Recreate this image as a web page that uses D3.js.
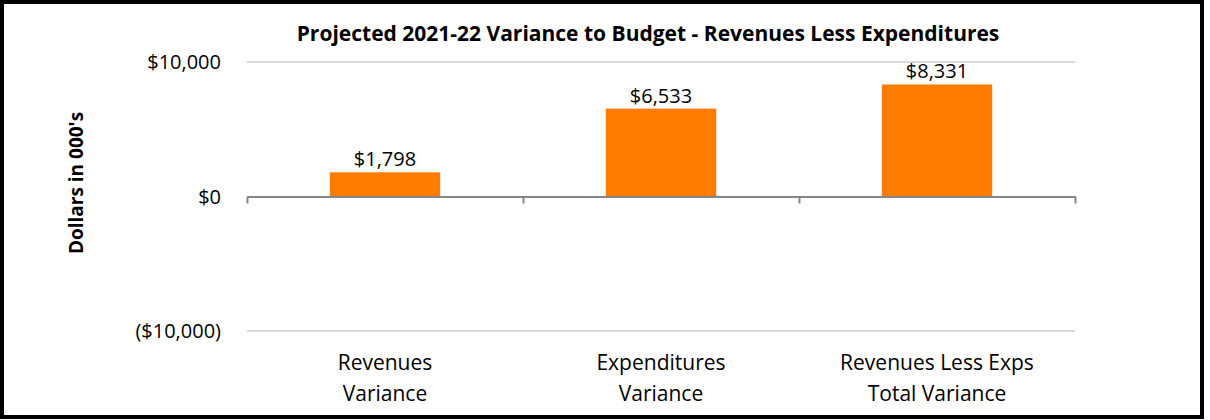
<!DOCTYPE html>
<html>
<head>
<meta charset="utf-8">
<script src="https://cdn.jsdelivr.net/npm/d3@7"></script>
<style>
  body { margin: 0; background: #fff; }
  svg text { font-family: "Open Sans", sans-serif; fill: #000; }
</style>
</head>
<body>
<svg class="chart"></svg>
<script>
const categories = [
  ['Revenues', 'Variance'],
  ['Expenditures', 'Variance'],
  ['Revenues Less Exps', 'Total Variance']
];
const values = [1798, 6533, 8331];
const yTicks = [-10000, 0, 10000];

var svgWidth = 1210;
var svgHeight = 420;

var svg = d3.select('.chart')
  .attr('width', svgWidth)
  .attr('height', svgHeight);

// outer frame
svg.append('rect')
  .attr('x', 2).attr('y', 2)
  .attr('width', 1200).attr('height', 415)
  .attr('fill', 'none')
  .attr('stroke', '#000')
  .attr('stroke-width', 4);

var xScale = d3.scaleBand()
  .domain(d3.range(values.length))
  .range([247, 1075])
  .paddingInner(0.6)
  .paddingOuter(0.3);

var yScale = d3.scaleLinear()
  .domain([-10000, 10000])
  .range([331, 62]);

const fmt = function(v) {
  var s = '$' + d3.format(',')(Math.abs(v));
  return v < 0 ? '(' + s + ')' : s;
};

// gridlines
svg.append('g')
  .selectAll('line')
  .data(yTicks.filter(function(d) { return d !== 0; }))
  .enter()
  .append('line')
  .attr('x1', 247).attr('x2', 1075)
  .attr('y1', function(d) { return yScale(d); })
  .attr('y2', function(d) { return yScale(d); })
  .attr('stroke', '#d9d9d9')
  .attr('stroke-width', 2);

// y tick labels
svg.append('g')
  .selectAll('text')
  .data(yTicks)
  .enter()
  .append('text')
  .attr('x', 221)
  .attr('y', function(d) { return yScale(d); })
  .attr('dy', '0.35em')
  .attr('text-anchor', 'end')
  .style('font-size', '20px')
  .text(fmt);

// bars
svg.append('g')
  .selectAll('rect')
  .data(values)
  .enter()
  .append('rect')
  .attr('x', function(d, i) { return xScale(i); })
  .attr('y', function(d) { return yScale(Math.max(d, 0)); })
  .attr('width', xScale.bandwidth())
  .attr('height', function(d) { return Math.abs(yScale(d) - yScale(0)); })
  .attr('fill', '#ff7c00');

// zero axis with category ticks
var xAxis = d3.axisBottom(d3.scaleLinear().domain([0, values.length]).range([247, 1075]))
  .tickValues(d3.range(values.length + 1))
  .tickSize(7)
  .tickSizeOuter(0)
  .tickFormat('');

svg.append('g')
  .attr('transform', 'translate(0,' + yScale(0) + ')')
  .call(xAxis)
  .call(function(g) {
    g.select('.domain').attr('stroke', '#868686').attr('stroke-width', 2);
    g.selectAll('.tick line').attr('stroke', '#868686').attr('stroke-width', 2);
  });

// value labels
svg.append('g')
  .selectAll('text')
  .data(values)
  .enter()
  .append('text')
  .attr('x', function(d, i) { return xScale(i) + xScale.bandwidth() / 2; })
  .attr('y', function(d) { return yScale(d) - 6; })
  .attr('text-anchor', 'middle')
  .style('font-size', '20px')
  .text(fmt);

// category labels
var catLabels = svg.append('g')
  .selectAll('text')
  .data(categories)
  .enter()
  .append('text')
  .attr('x', function(d, i) { return xScale(i) + xScale.bandwidth() / 2; })
  .attr('y', 370)
  .attr('text-anchor', 'middle')
  .style('font-size', '21px');

catLabels.selectAll('tspan')
  .data(function(d) { return d; })
  .enter()
  .append('tspan')
  .attr('x', function() { return d3.select(this.parentNode).attr('x'); })
  .attr('dy', function(d, i) { return i === 0 ? 0 : 31; })
  .text(function(d) { return d; });

// title
svg.append('text')
  .attr('x', 648)
  .attr('y', 41)
  .attr('text-anchor', 'middle')
  .style('font-size', '21px')
  .style('font-weight', 'bold')
  .text('Projected 2021-22 Variance to Budget - Revenues Less Expenditures');

// y axis title
svg.append('text')
  .attr('transform', 'translate(83,183) rotate(-90)')
  .attr('text-anchor', 'middle')
  .style('font-size', '19px')
  .style('font-weight', 'bold')
  .text("Dollars in 000's");
</script>
</body>
</html>
